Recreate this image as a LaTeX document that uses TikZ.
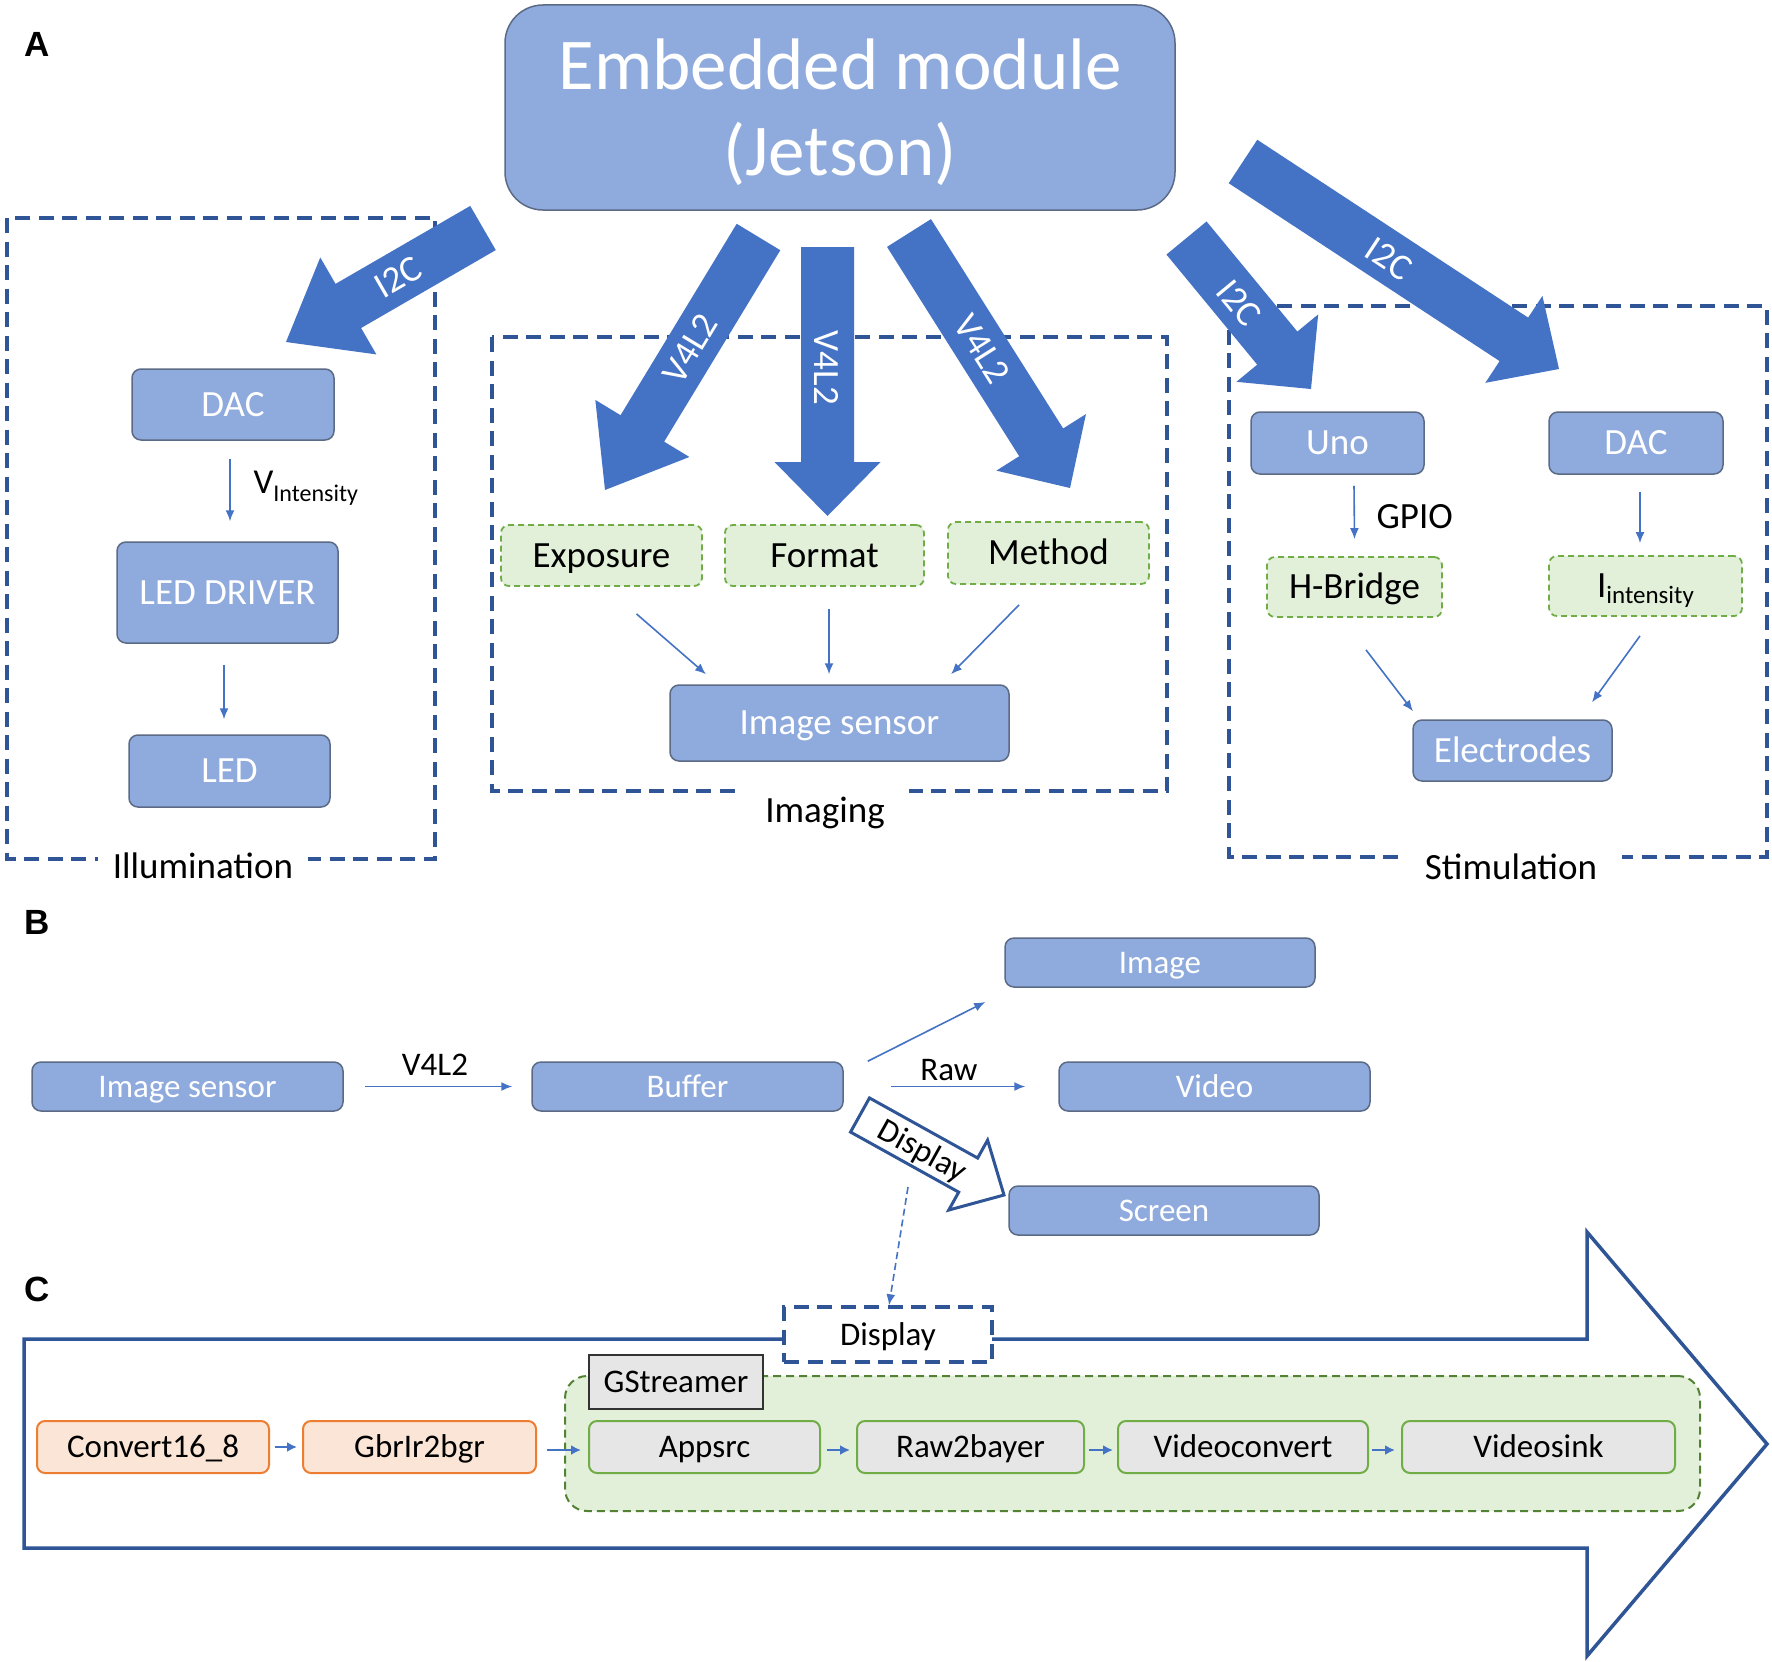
\documentclass[tikz,border=0pt]{standalone}
\usepackage{fontspec}
\setmainfont{Carlito}
\newfontfamily\arialfont{Liberation Sans}
\usetikzlibrary{calc,arrows.meta}
\definecolor{boxfill}{HTML}{8FAADC}
\definecolor{boxline}{HTML}{5B6B86}
\definecolor{arrblue}{HTML}{4472C4}
\definecolor{dashblue}{HTML}{2F5597}
\definecolor{gfill}{HTML}{E2F0D9}
\definecolor{gline}{HTML}{70AD47}
\definecolor{gdark}{HTML}{548235}
\definecolor{ofill}{HTML}{FBE5D6}
\definecolor{oline}{HTML}{ED7D31}
\definecolor{grayfill}{HTML}{E6E6E6}
\newcommand\fsz[1]{\fontsize{#1}{#1}\selectfont}
\newcommand\blockarr[6]{%
  \coordinate (ba-h) at ($(#3)!#6!(#2)$);
  \path[#1] ($(#2)!#4!90:(#3)$) -- ($(ba-h)!#4!90:(#3)$) -- ($(ba-h)!#5!90:(#3)$) -- (#3)
     -- ($(ba-h)!#5!-90:(#3)$) -- ($(ba-h)!#4!-90:(#3)$) -- ($(#2)!#4!-90:(#3)$) -- cycle;}
\tikzset{
 bbox/.style={draw=boxline, fill=boxfill, line width=1.5pt, rounded corners=9pt, text=white, inner sep=0pt},
 fA/.style={font=\fsz{37}, text height=29.6pt, text depth=5.8pt},
 fB/.style={font=\fsz{33}, text height=26.4pt, text depth=5.2pt},
 gbox/.style={draw=gline, fill=gfill, line width=1.8pt, dash pattern=on 6pt off 4pt, rounded corners=8pt, text=black, inner sep=0pt},
 region/.style={draw=dashblue, line width=3.5pt, dash pattern=on 15pt off 8.5pt},
 reglabel/.style={fill=white, font=\fsz{37}, text height=34pt, text depth=8pt, inner ysep=6pt, anchor=base},
 thinarr/.style={draw=arrblue, line width=1.6pt, -{Latex[length=11pt,width=9pt]}},
 pipearr/.style={draw=arrblue, line width=2.5pt, -{Latex[length=10pt,width=10pt]}},
 bigarr/.style={fill=arrblue},
 arrlabel/.style={text=white, font=\fsz{37}},
 obox/.style={draw=oline, fill=ofill, line width=2pt, rounded corners=8pt, inner sep=0pt, minimum height=52pt},
 pbox/.style={draw=gline, fill=grayfill, line width=2pt, rounded corners=8pt, inner sep=0pt, minimum height=52pt},
 plabel/.style={font=\arialfont\bfseries\fsz{35}},
}
\begin{document}
\begin{tikzpicture}[x=1pt,y=-1pt]
\useasboundingbox (0,0) rectangle (1772,1662);
\fill[white] (0,0) rectangle (1772,1662);

% panel letters
\node[plabel] (pa) at (37,44) {A};
\node[plabel] (pb) at (37,922) {B};
\node[plabel] (pc) at (37,1289) {C};

% regions
\draw[region] (7,218) rectangle (435,859);
\draw[region] (492,337) rectangle (1167,791);
\draw[region] (1229,306) rectangle (1767,857);

% embedded module
\node[bbox, rounded corners=38pt, minimum width=670pt, minimum height=205pt] (emb) at (840,107.5) {};
\node[text=white, font=\fsz{73}, anchor=base] (emb1) at (840,89) {Embedded module};
\node[text=white, font=\fsz{73}, anchor=base] (emb2) at (840,175) {(Jetson)};

% illumination
\node[bbox,fA,minimum width=202pt,minimum height=71pt] (dacA) at (233,404.5) {DAC};
\node[bbox,fA,minimum width=221pt,minimum height=101pt] (ledd) at (227.5,592.5) {LED DRIVER};
\node[bbox,fA,minimum width=201pt,minimum height=72pt] (led) at (229.5,771) {LED};
\draw[thinarr] ([xshift=-3pt,yshift=-18pt]dacA.south) -- ([xshift=2.5pt,yshift=20pt]ledd.north);
\node[anchor=base west, font=\fsz{35}] (vint) at (250,493) {V\raisebox{-8pt}{\fsz{24}Intensity}};
\draw[thinarr] ([xshift=-3.5pt,yshift=-21pt]ledd.south) -- ([xshift=-5.5pt,yshift=15pt]led.north);
\node[reglabel, inner xsep=15pt] (illum) at (203,878) {Illumination};

% imaging
\node[gbox,fA,minimum width=201pt,minimum height=61pt] (expo) at (601.5,555.5) {Exposure};
\node[gbox,fA,minimum width=199pt,minimum height=61pt] (fmt) at (824.5,555.5) {Format};
\node[gbox,fA,minimum width=201pt,minimum height=62pt] (mth) at (1048.5,553) {Method};
\node[bbox,fA,minimum width=339pt,minimum height=76pt] (isA) at (839.5,723) {Image sensor};
\draw[thinarr] ([xshift=35pt,yshift=-27pt]expo.south) -- ([xshift=-133.5pt,yshift=10pt]isA.north);
\draw[thinarr] ([xshift=4.5pt,yshift=-22pt]fmt.south) -- ([xshift=-10.5pt,yshift=10pt]isA.north);
\draw[thinarr] ([xshift=-29.5pt,yshift=-20pt]mth.south) -- ([xshift=111.5pt,yshift=10pt]isA.north);
\node[reglabel, inner xsep=24pt] (imglab) at (825,822) {Imaging};

% stimulation
\node[bbox,fA,minimum width=173pt,minimum height=62pt] (uno) at (1337.5,443) {Uno};
\node[bbox,fA,minimum width=174pt,minimum height=62pt] (dacB) at (1636,443) {DAC};
\node[gbox,fA,minimum width=175pt,minimum height=60pt] (hb) at (1354.5,587) {H-Bridge};
\node[gbox,fA,minimum width=193pt,minimum height=60pt] (iint) at (1645.5,586) {I\raisebox{-6pt}{\fsz{25}intensity}};
\node[bbox,fA,minimum width=199pt,minimum height=61pt] (elec) at (1512.5,750.5) {Electrodes};
\draw[thinarr] ([xshift=16.5pt,yshift=-11pt]uno.south) -- ([yshift=17pt]hb.north);
\node[anchor=base west, font=\fsz{37}] (gpio) at (1373,528) {GPIO};
\draw[thinarr] ([xshift=4pt,yshift=-17pt]dacB.south) -- ([xshift=-5.5pt,yshift=12pt]iint.north);
\draw[thinarr] ([xshift=11.5pt,yshift=-32pt]hb.south) -- ([xshift=-99.5pt,yshift=8pt]elec.north);
\draw[thinarr] ([xshift=-5.5pt,yshift=-19pt]iint.south) -- ([xshift=79.5pt,yshift=17pt]elec.north);
\node[reglabel, inner xsep=25pt] (stimlab) at (1511,879) {Stimulation};

% big block arrows
\coordinate (a1t) at (483,228); \coordinate (a1h) at (286,342);
\blockarr{bigarr}{a1t}{a1h}{25.5pt}{56pt}{72pt}
\node[arrlabel, rotate=30] (a1l) at (398,277) {I2C};
\coordinate (a2t) at (758.5,237); \coordinate (a2h) at (605,490);
\blockarr{bigarr}{a2t}{a2h}{25.5pt}{55pt}{72pt}
\node[arrlabel, rotate=58.8] (a2l) at (690,349) {V4L2};
\coordinate (a3t) at (827.5,247); \coordinate (a3h) at (827.5,516);
\blockarr{bigarr}{a3t}{a3h}{26.5pt}{53pt}{54pt}
\node[arrlabel, rotate=-90] (a3l) at (826,368) {V4L2};
\coordinate (a4t) at (909,233); \coordinate (a4h) at (1070,488);
\blockarr{bigarr}{a4t}{a4h}{26pt}{53pt}{54pt}
\node[arrlabel, rotate=-57.7] (a4l) at (982,349) {V4L2};
\coordinate (a5t) at (1186.5,238); \coordinate (a5h) at (1311,389);
\blockarr{bigarr}{a5t}{a5h}{26pt}{53pt}{53pt}
\node[arrlabel, rotate=-50.5] (a5l) at (1239,303) {I2C};
\coordinate (a6t) at (1243,161.5); \coordinate (a6h) at (1559,369);
\blockarr{bigarr}{a6t}{a6h}{26pt}{52pt}{54pt}
\node[arrlabel, rotate=-33.3] (a6l) at (1389,259) {I2C};

% panel B
\node[bbox,fB,minimum width=311pt,minimum height=49pt] (isB) at (187.5,1086.5) {Image sensor};
\node[bbox,fB,minimum width=311pt,minimum height=49pt] (buf) at (687.5,1086.5) {Buffer};
\node[bbox,fB,minimum width=310pt,minimum height=49pt] (img) at (1160,962.5) {Image};
\node[bbox,fB,minimum width=311pt,minimum height=49pt] (vid) at (1214.5,1086.5) {Video};
\node[bbox,fB,minimum width=310pt,minimum height=49pt] (scr) at (1164,1210.5) {Screen};
\draw[thinarr] ([xshift=21pt]isB.east) -- ([xshift=-19pt]buf.west);
\node[font=\fsz{33}, anchor=base] (v4l2b) at (435,1075) {V4L2};
\draw[thinarr] ([xshift=24pt]buf.north east) -- ([xshift=-19pt,yshift=-39.5pt]img.west);
\draw[thinarr] ([xshift=47pt]buf.east) -- ([xshift=-33pt]vid.west);
\node[font=\fsz{33}, anchor=base] (rawl) at (949,1080) {Raw};
\coordinate (dat) at (860,1115); \coordinate (dah) at (1004,1195);
\blockarr{draw=dashblue, fill=white, line width=3pt, line join=miter}{dat}{dah}{19.5pt}{40pt}{41pt}
\node[rotate=-29, font=\fsz{33}] (dlab) at (922,1152) {Display};

% panel C
\draw[draw=dashblue, line width=3.5pt, line join=miter] (24,1339) -- (1587,1339) -- (1587,1232) -- (1767,1444) -- (1587,1656) -- (1587,1548) -- (24,1548) -- cycle;
\node[draw=dashblue, fill=white, line width=3.5pt, dash pattern=on 15pt off 8.5pt, fB, inner sep=0pt, minimum width=208pt, minimum height=55pt] (dsp) at (888,1334.5) {Display};
\coordinate (dds) at (908,1187);
\draw[thinarr, dash pattern=on 7pt off 4pt] (dds) -- ([xshift=1pt]dsp.north);
\node[draw=gdark, fill=gfill, line width=2pt, dash pattern=on 8pt off 5pt, rounded corners=22pt, minimum width=1135pt, minimum height=135pt] (gst) at (1132.5,1443.5) {};
\node[draw=black!80, fill=grayfill, line width=1.8pt, fB, inner sep=0pt, minimum width=174pt, minimum height=54pt] (gstl) at (676,1382) {GStreamer};
\node[obox,fB,minimum width=232pt] (c16) at (153,1447) {Convert16\_8};
\node[obox,fB,minimum width=233pt] (gbr) at (419.5,1447) {GbrIr2bgr};
\node[pbox,fB,minimum width=231pt] (app) at (704.5,1447) {Appsrc};
\node[pbox,fB,minimum width=227pt] (r2b) at (970.5,1447) {Raw2bayer};
\node[pbox,fB,minimum width=250pt] (vc) at (1243,1447) {Videoconvert};
\node[pbox,fB,minimum width=273pt] (vs) at (1538.5,1447) {Videosink};
\draw[pipearr] ([xshift=5pt]c16.east) -- ([xshift=-5pt]gbr.west);
\draw[pipearr] ([xshift=10pt,yshift=-3pt]gbr.east) -- ([xshift=-7pt,yshift=-3pt]app.west);
\draw[pipearr] ([xshift=6pt,yshift=-3pt]app.east) -- ([xshift=-6pt,yshift=-3pt]r2b.west);
\draw[pipearr] ([xshift=4pt,yshift=-3pt]r2b.east) -- ([xshift=-4pt,yshift=-3pt]vc.west);
\draw[pipearr] ([xshift=3pt,yshift=-3pt]vc.east) -- ([xshift=-6pt,yshift=-3pt]vs.west);
\end{tikzpicture}
\end{document}
